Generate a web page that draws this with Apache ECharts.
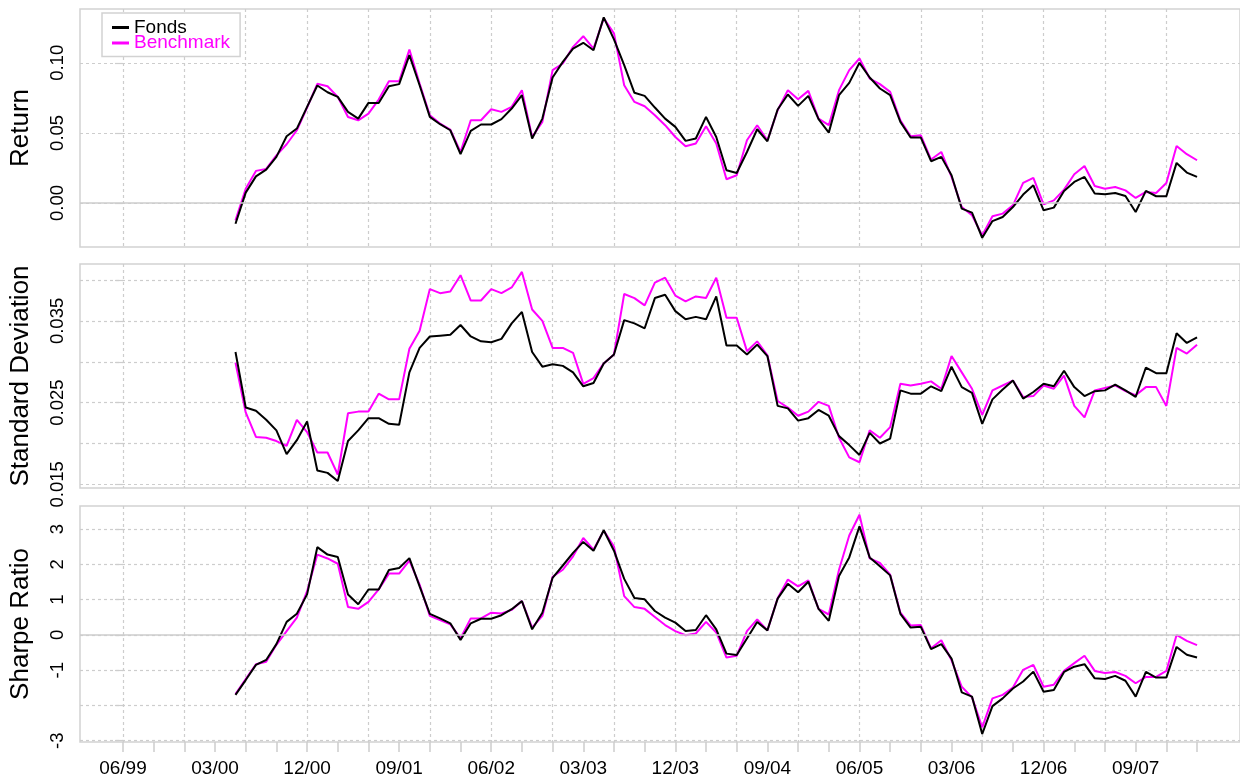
<!DOCTYPE html>
<html>
<head>
<meta charset="utf-8">
<script src="https://cdn.jsdelivr.net/npm/echarts@6/dist/echarts.min.js"></script>
<style>
  html, body { margin: 0; padding: 0; background: #fff; }
  #chart { width: 1240px; height: 783px; }
</style>
</head>
<body>
<div id="chart"></div>
<script>
// months are counted from 06/99; the first value is 05/00 (month 11)
const startMonth = 11;
const tickLabels = ['06/99', '03/00', '12/00', '09/01', '06/02', '03/03', '12/03', '09/04', '06/05', '03/06', '12/06', '09/07'];

const returnFonds = [
  -0.0148, 0.0074, 0.019, 0.0238, 0.0329, 0.0476, 0.0531, 0.0686, 0.0838, 0.079, 0.0757, 0.065, 0.0602, 0.0714, 0.0714, 0.0833, 0.0848, 0.1055,
  0.084, 0.0614, 0.0562, 0.0519, 0.0348, 0.0514, 0.056, 0.056, 0.0598, 0.0674, 0.0769, 0.046, 0.0602, 0.0895, 0.1007, 0.1102, 0.1143, 0.109, 0.1324, 0.1167, 0.0983,
  0.0786, 0.0764, 0.0681, 0.0602, 0.0543, 0.0443, 0.046, 0.0614, 0.0471, 0.0233, 0.0214, 0.0364, 0.0526, 0.044, 0.0667, 0.0774, 0.0693, 0.0764,
  0.0598, 0.0502, 0.0769, 0.0857, 0.1, 0.0895, 0.0817, 0.0769, 0.0579, 0.0467, 0.0467, 0.0298, 0.0329, 0.0198, -0.004, -0.0069, -0.0248, -0.0129, -0.01,
  -0.0029, 0.006, 0.0126, -0.0052, -0.0033, 0.0086, 0.015, 0.0186, 0.0067, 0.0062, 0.0071, 0.005, -0.0064, 0.0086, 0.0048, 0.0048, 0.0286, 0.0217, 0.0186
];
const returnBench = [
  -0.0124, 0.0102, 0.0229, 0.0243, 0.034, 0.0419, 0.0519, 0.068, 0.085, 0.0833, 0.0757, 0.0614, 0.059, 0.0638, 0.0738, 0.0869, 0.0869, 0.1095,
  0.0852, 0.0626, 0.0567, 0.0524, 0.0364, 0.059, 0.059, 0.0669, 0.065, 0.0686, 0.0805, 0.0471, 0.0579, 0.0948, 0.0995, 0.1114, 0.119, 0.1102, 0.1317, 0.121, 0.084,
  0.0721, 0.069, 0.0626, 0.0555, 0.0471, 0.0405, 0.0424, 0.0548, 0.0424, 0.0169, 0.0198, 0.0448, 0.0555, 0.0448, 0.0662, 0.0805, 0.074, 0.08,
  0.0602, 0.0555, 0.0805, 0.0948, 0.1031, 0.0888, 0.0848, 0.0793, 0.059, 0.0476, 0.0483, 0.031, 0.0364, 0.0186, -0.0029, -0.0088, -0.0231, -0.0095, -0.0076,
  -0.0017, 0.0143, 0.0179, -0.001, 0.0019, 0.0095, 0.0205, 0.0264, 0.0121, 0.0102, 0.0114, 0.009, 0.0036, 0.0079, 0.0071, 0.0143, 0.0407, 0.0348, 0.0305
];

const sdFonds = [
  0.0312, 0.0244, 0.024, 0.0229, 0.0216, 0.0187, 0.0204, 0.0227, 0.0167, 0.0164, 0.0154, 0.0203, 0.0216, 0.0231, 0.0231, 0.0224, 0.0223, 0.0287, 0.0317,
  0.0331, 0.0332, 0.0333, 0.0345, 0.0331, 0.0325, 0.0324, 0.0328, 0.0347, 0.0361, 0.0312, 0.0294, 0.0297, 0.0295, 0.0287, 0.027, 0.0274, 0.0298, 0.0309, 0.0351,
  0.0347, 0.0341, 0.0378, 0.0382, 0.0362, 0.0352, 0.0355, 0.0352, 0.038, 0.032, 0.032, 0.0309, 0.0321, 0.0307, 0.0246, 0.0243, 0.0228, 0.0231, 0.0241,
  0.0234, 0.0209, 0.0198, 0.0186, 0.0213, 0.02, 0.0206, 0.0265, 0.0261, 0.0261, 0.027, 0.0264, 0.0294, 0.0269, 0.0262, 0.0224, 0.0254, 0.0266, 0.0277,
  0.0255, 0.0263, 0.0273, 0.027, 0.0289, 0.0269, 0.0258, 0.0264, 0.0265, 0.0272, 0.0265, 0.0257, 0.0293, 0.0286, 0.0286, 0.0335, 0.0323, 0.033
];
const sdBench = [
  0.0299, 0.0238, 0.0208, 0.0207, 0.0203, 0.0197, 0.0229, 0.0214, 0.0189, 0.0189, 0.0162, 0.0237, 0.0239, 0.0239, 0.0261, 0.0254, 0.0254, 0.0316, 0.0338,
  0.0389, 0.0384, 0.0386, 0.0406, 0.0375, 0.0375, 0.0389, 0.0384, 0.0391, 0.041, 0.0364, 0.035, 0.0317, 0.0317, 0.0311, 0.0273, 0.028, 0.0298, 0.0309, 0.0383,
  0.0378, 0.0369, 0.0397, 0.0403, 0.0381, 0.0374, 0.038, 0.0378, 0.0403, 0.0354, 0.0354, 0.0313, 0.0325, 0.0308, 0.0252, 0.0244, 0.0234, 0.0239, 0.0251,
  0.0246, 0.0207, 0.0183, 0.0177, 0.0216, 0.0207, 0.022, 0.0273, 0.0271, 0.0273, 0.0276, 0.0267, 0.0307, 0.0287, 0.0267, 0.0235, 0.0265, 0.0271, 0.0277,
  0.0257, 0.0258, 0.0271, 0.0267, 0.0283, 0.0246, 0.0232, 0.0265, 0.0268, 0.0271, 0.0264, 0.0259, 0.0269, 0.0269, 0.0246, 0.0317, 0.031, 0.0321
];

const sharpeFonds = [
  -1.70, -1.28, -0.85, -0.71, -0.26, 0.37, 0.60, 1.15, 2.49, 2.28, 2.21, 1.15, 0.87, 1.29, 1.29, 1.84, 1.90, 2.18,
  1.38, 0.60, 0.47, 0.33, -0.14, 0.33, 0.46, 0.46, 0.56, 0.73, 0.96, 0.16, 0.63, 1.62, 1.97, 2.33, 2.64, 2.39, 2.97, 2.39, 1.59,
  1.05, 1.01, 0.68, 0.49, 0.35, 0.11, 0.14, 0.56, 0.16, -0.53, -0.57, -0.10, 0.37, 0.13, 1.03, 1.45, 1.21, 1.51,
  0.74, 0.40, 1.67, 2.20, 3.08, 2.20, 1.95, 1.69, 0.60, 0.21, 0.23, -0.40, -0.26, -0.67, -1.63, -1.75, -2.81, -2.02, -1.80,
  -1.52, -1.32, -1.04, -1.61, -1.56, -1.05, -0.90, -0.83, -1.23, -1.25, -1.16, -1.30, -1.75, -1.05, -1.21, -1.21, -0.34, -0.56, -0.64
];
const sharpeBench = [
  -1.68, -1.25, -0.83, -0.76, -0.28, 0.11, 0.49, 1.24, 2.28, 2.17, 2.02, 0.79, 0.74, 0.94, 1.29, 1.74, 1.74, 2.11,
  1.43, 0.54, 0.42, 0.30, -0.09, 0.47, 0.47, 0.63, 0.61, 0.71, 0.96, 0.21, 0.54, 1.65, 1.85, 2.23, 2.75, 2.42, 2.96, 2.51, 1.10,
  0.79, 0.74, 0.51, 0.28, 0.11, -0.01, 0.04, 0.37, 0.07, -0.64, -0.59, 0.11, 0.44, 0.13, 1.04, 1.57, 1.38, 1.55,
  0.74, 0.58, 1.85, 2.82, 3.41, 2.17, 2.04, 1.71, 0.63, 0.27, 0.28, -0.38, -0.15, -0.72, -1.47, -1.77, -2.62, -1.80, -1.70,
  -1.49, -0.99, -0.85, -1.47, -1.41, -1.02, -0.80, -0.59, -1.02, -1.08, -1.05, -1.16, -1.37, -1.19, -1.19, -1.02, 0.00, -0.17, -0.29
];

const FONT = '"Liberation Sans", Arial, Helvetica, sans-serif';
const GRAY = '#cdcdcd';
const FRAME = '#d2d2d2';
const X_MIN = -4.2, X_MAX = 109.2;

// x positions in months from 06/99
const gridMonths = [];
for (let m = 0; m <= 102; m += 6) gridMonths.push(m);
const tickMonths = [];
for (let m = 0; m <= 105; m += 3) tickMonths.push(m);
const labelMonths = tickLabels.map((_, i) => i * 9);

const toPairs = arr => arr.map((v, i) => [startMonth + i, v]);

const chart = echarts.init(document.getElementById('chart'));

const gridBase = { left: 79, right: -2, show: true, borderColor: FRAME, borderWidth: 1.5, backgroundColor: 'transparent' };

function gridXAxis(idx, position) {
  return {
    type: 'value', gridIndex: idx, position: position, min: X_MIN, max: X_MAX,
    axisLine: { show: false },
    axisTick: { show: false, customValues: gridMonths },
    axisLabel: { show: false },
    splitLine: { show: true, lineStyle: { color: GRAY, type: [3, 3], width: 1.2 } }
  };
}

function yAxis(idx, opts) {
  return {
    type: 'value', gridIndex: idx, min: opts.min, max: opts.max,
    name: opts.name, nameLocation: 'middle', nameGap: 46,
    nameTextStyle: { fontSize: 26, fontFamily: FONT, color: '#000' },
    axisLine: { show: false },
    axisTick: { show: true, length: 8, customValues: opts.ticks, lineStyle: { color: GRAY, width: 1.2 } },
    axisLabel: {
      customValues: opts.labels, rotate: 90, margin: 13, fontSize: 18.5, fontFamily: FONT, color: '#000',
      formatter: opts.format
    },
    splitLine: { show: true, lineStyle: { color: GRAY, type: [3, 3], width: 1.2 } }
  };
}

const zeroLine = {
  silent: true, symbol: 'none', label: { show: false }, animation: false,
  lineStyle: { color: GRAY, type: 'solid', width: 1.5 },
  data: [{ yAxis: 0 }]
};

function line(name, color, xIdx, yIdx, values, extra) {
  return Object.assign({
    name: name, type: 'line', xAxisIndex: xIdx, yAxisIndex: yIdx,
    data: toPairs(values), showSymbol: false, symbol: 'none',
    lineStyle: { color: color, width: 2 }, itemStyle: { color: color },
    animation: false
  }, extra || {});
}

const option = {
  backgroundColor: '#fff',
  textStyle: { fontFamily: FONT },
  grid: [
    Object.assign({ top: 9, height: 238 }, gridBase),
    Object.assign({ top: 264, height: 224 }, gridBase),
    Object.assign({ top: 506, height: 236 }, gridBase)
  ],
  legend: {
    orient: 'vertical', left: 102, top: 13,
    data: [
      { name: 'Fonds', textStyle: { color: '#000' } },
      { name: 'Benchmark', textStyle: { color: '#ff00ff' } }
    ],
    icon: 'rect', itemWidth: 17, itemHeight: 3, itemGap: -3.5,
    padding: [5, 10, 4, 10],
    borderColor: FRAME, borderWidth: 1.5, backgroundColor: '#fff',
    textStyle: { fontSize: 19, fontFamily: FONT }
  },
  xAxis: [
    gridXAxis(0, 'bottom'),
    gridXAxis(1, 'bottom'),
    gridXAxis(2, 'top'),
    {
      type: 'value', gridIndex: 2, position: 'bottom', min: X_MIN, max: X_MAX,
      axisLine: { show: false },
      axisTick: { show: true, length: 10, customValues: tickMonths, lineStyle: { color: GRAY, width: 1.5 } },
      axisLabel: {
        customValues: labelMonths, margin: 17, fontSize: 19, fontFamily: FONT, color: '#000',
        formatter: v => tickLabels[Math.round(v / 9)]
      },
      splitLine: { show: false }
    }
  ],
  yAxis: [
    yAxis(0, { name: 'Return', min: -0.0314, max: 0.1384, ticks: [0, 0.05, 0.1], labels: [0, 0.05, 0.1],
      format: v => v.toFixed(2) }),
    yAxis(1, { name: 'Standard Deviation', min: 0.01455, max: 0.04197,
      ticks: [0.015, 0.02, 0.025, 0.03, 0.035, 0.04], labels: [0.015, 0.025, 0.035],
      format: v => v.toFixed(3) }),
    yAxis(2, { name: 'Sharpe Ratio', min: -3.037, max: 3.658,
      ticks: [-3, -2, -1, 0, 1, 2, 3], labels: [-3, -1, 0, 1, 2, 3],
      format: v => String(Math.round(v)) })
  ],
  series: [
    line('Benchmark', '#ff00ff', 0, 0, returnBench, { markLine: zeroLine }),
    line('Fonds', '#000000', 0, 0, returnFonds),
    line('Benchmark', '#ff00ff', 1, 1, sdBench),
    line('Fonds', '#000000', 1, 1, sdFonds),
    line('Benchmark', '#ff00ff', 3, 2, sharpeBench, { markLine: zeroLine }),
    line('Fonds', '#000000', 3, 2, sharpeFonds)
  ]
};

chart.setOption(option);
</script>
</body>
</html>
